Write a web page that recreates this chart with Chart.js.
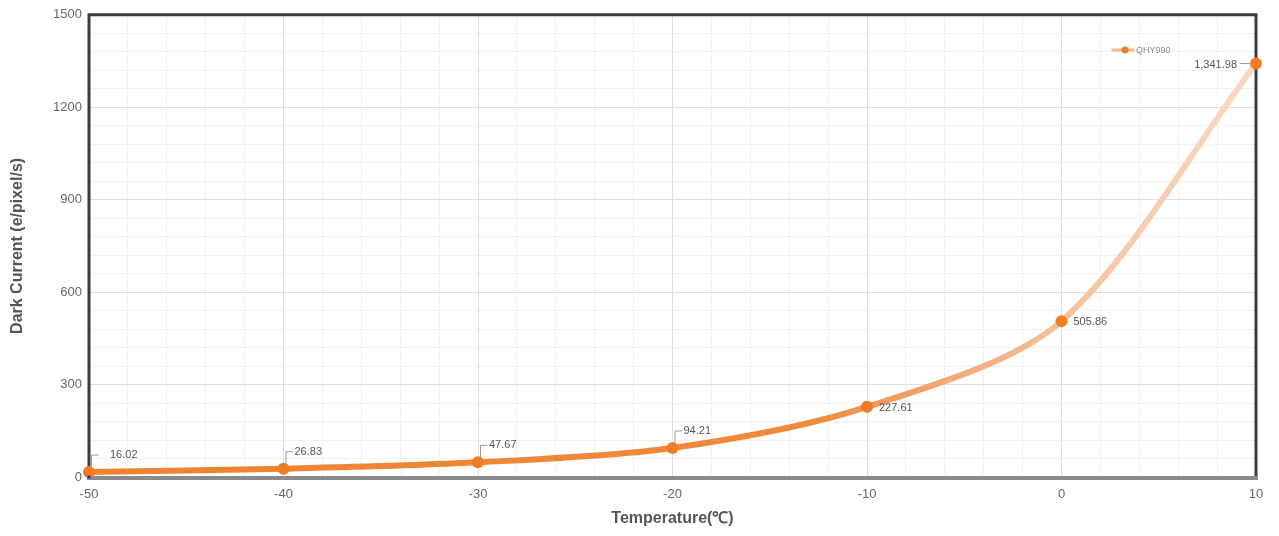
<!DOCTYPE html>
<html><head><meta charset="utf-8">
<script src="https://cdn.jsdelivr.net/npm/chart.js@4/dist/chart.umd.min.js"></script>
<style>html,body{margin:0;padding:0;background:#fff}#wrap{width:1279px;height:536px}</style>
</head><body><div id="wrap"><canvas id="c" width="1279" height="536"></canvas></div>
<script>
const temperatures = [-50, -40, -30, -20, -10, 0, 10];
const darkCurrent = [16.02, 26.83, 47.67, 94.21, 227.61, 505.86, 1341.98];
const labelsText = ['16.02', '26.83', '47.67', '94.21', '227.61', '505.86', '1,341.98'];
const seriesName = 'QHY990';
const xTickValues = [-50, -40, -30, -20, -10, 0, 10];
const yTickValues = [0, 300, 600, 900, 1200, 1500];

const pts = temperatures.map((t, i) => ({x: t, y: darkCurrent[i]}));

const framePlugin = {
  id: 'frame',
  afterDatasetsDraw(chart) {
    const {ctx, chartArea: a} = chart;
    ctx.save();
    ctx.lineCap = 'square';
    ctx.strokeStyle = '#3a3a3a'; ctx.lineWidth = 3;
    ctx.beginPath();
    ctx.moveTo(a.left, a.bottom); ctx.lineTo(a.left, a.top); ctx.lineTo(a.right, a.top); ctx.lineTo(a.right, a.bottom);
    ctx.stroke();
    ctx.strokeStyle = '#8a8a8a'; ctx.lineWidth = 4;
    ctx.beginPath(); ctx.moveTo(a.left, a.bottom + 1); ctx.lineTo(a.right, a.bottom + 1); ctx.stroke();
    const meta = chart.getDatasetMeta(0);
    ctx.fillStyle = '#f07c26';
    meta.data.forEach(p => { ctx.beginPath(); ctx.arc(p.x, p.y, 6, 0, Math.PI * 2); ctx.fill(); });
    const xs = chart.scales.x, ys = chart.scales.y;
    ctx.fillStyle = '#1a2fd0';
    ctx.fillRect(xs.getPixelForValue(-50) - 1.5, ys.getPixelForValue(0) - 1.5, 3, 3);
    ctx.font = '11px "Liberation Sans", Arial, sans-serif';
    ctx.fillStyle = '#555'; ctx.textBaseline = 'middle';
    ctx.strokeStyle = '#999'; ctx.lineWidth = 1;
    meta.data.forEach((p, i) => {
      const txt = labelsText[i];
      if (i <= 3) {
        const topY = p.y - 17;
        ctx.beginPath(); ctx.moveTo(p.x + 2.5, p.y - 6); ctx.lineTo(p.x + 2.5, topY); ctx.lineTo(p.x + 9, topY); ctx.stroke();
        ctx.textAlign = 'left'; ctx.fillText(txt, p.x + (i === 0 ? 21 : 11), topY);
      } else if (i < 6) {
        ctx.textAlign = 'left'; ctx.fillText(txt, p.x + 12, p.y + 1);
      } else {
        ctx.beginPath(); ctx.moveTo(p.x - 16, p.y); ctx.lineTo(p.x - 7, p.y); ctx.stroke();
        ctx.textAlign = 'right'; ctx.fillText(txt, p.x - 19, p.y + 1);
      }
    });
    const lx = 1113, ly = 50;
    ctx.strokeStyle = '#f5b890'; ctx.lineWidth = 3;
    ctx.beginPath(); ctx.moveTo(lx, ly); ctx.lineTo(lx + 20, ly); ctx.stroke();
    ctx.fillStyle = '#f07c26'; ctx.beginPath(); ctx.arc(lx + 12, ly, 3.5, 0, Math.PI * 2); ctx.fill();
    ctx.font = '9px "Liberation Sans", Arial, sans-serif'; ctx.fillStyle = '#888'; ctx.textAlign = 'left';
    ctx.fillText(seriesName, lx + 23, ly + 1);
    ctx.restore();
  }
};

new Chart(document.getElementById('c'), {
  type: 'line',
  data: {
    datasets: [{
      label: seriesName,
      data: pts,
      borderWidth: 6,
      borderColor(ctx) {
        const a = ctx.chart.chartArea;
        if (!a) return '#ef8432';
        const g = ctx.chart.ctx.createLinearGradient(a.left, 0, a.right, 0);
        g.addColorStop(0, '#ee8230');
        g.addColorStop(0.62, '#ef8a3c');
        g.addColorStop(0.72, '#f2a470');
        g.addColorStop(0.84, '#f6c3a0');
        g.addColorStop(1, '#fad8c2');
        return g;
      },
      pointRadius: 0,
      pointHoverRadius: 0,
      tension: 0.3,
      fill: false,
      clip: false
    }]
  },
  options: {
    responsive: false,
    animation: false,
    events: [],
    layout: {padding: {top: 12, right: 23, left: 8, bottom: 0}},
    plugins: {legend: {display: false}, tooltip: {enabled: false}},
    scales: {
      x: {
        type: 'linear', min: -50, max: 10,
        afterFit(s) { s.height = 59; },
        border: {display: false},
        grid: {
          color: c => (c.tick && c.tick.value % 10 === 0) ? '#dedede' : '#f1f1f1',
          lineWidth: 1, drawTicks: false
        },
        ticks: {
          stepSize: 2, autoSkip: false, maxRotation: 0, padding: 10,
          color: '#666', font: {size: 13, family: '"Liberation Sans", Arial, sans-serif'},
          callback: v => xTickValues.includes(v) ? String(v) : ''
        },
        title: {display: true, text: 'Temperature(℃)', color: '#555', padding: {top: 4, bottom: 8},
          font: {size: 16, weight: 'bold', family: '"Liberation Sans", Arial, sans-serif'}}
      },
      y: {
        min: 0, max: 1500,
        afterFit(s) { s.width = 81; },
        border: {display: false},
        grid: {
          color: c => (c.tick && c.tick.value % 300 === 0) ? '#dedede' : '#f1f1f1',
          lineWidth: 1, drawTicks: false
        },
        ticks: {
          stepSize: 60, autoSkip: false, padding: 7,
          color: '#666', font: {size: 13, family: '"Liberation Sans", Arial, sans-serif'},
          callback: v => yTickValues.includes(v) ? String(v) : ''
        },
        title: {display: true, text: 'Dark Current (e/pixel/s)', color: '#555', padding: {top: 0, bottom: 4},
          font: {size: 16, weight: 'bold', family: '"Liberation Sans", Arial, sans-serif'}}
      }
    }
  },
  plugins: [framePlugin]
});
</script>
</body></html>
